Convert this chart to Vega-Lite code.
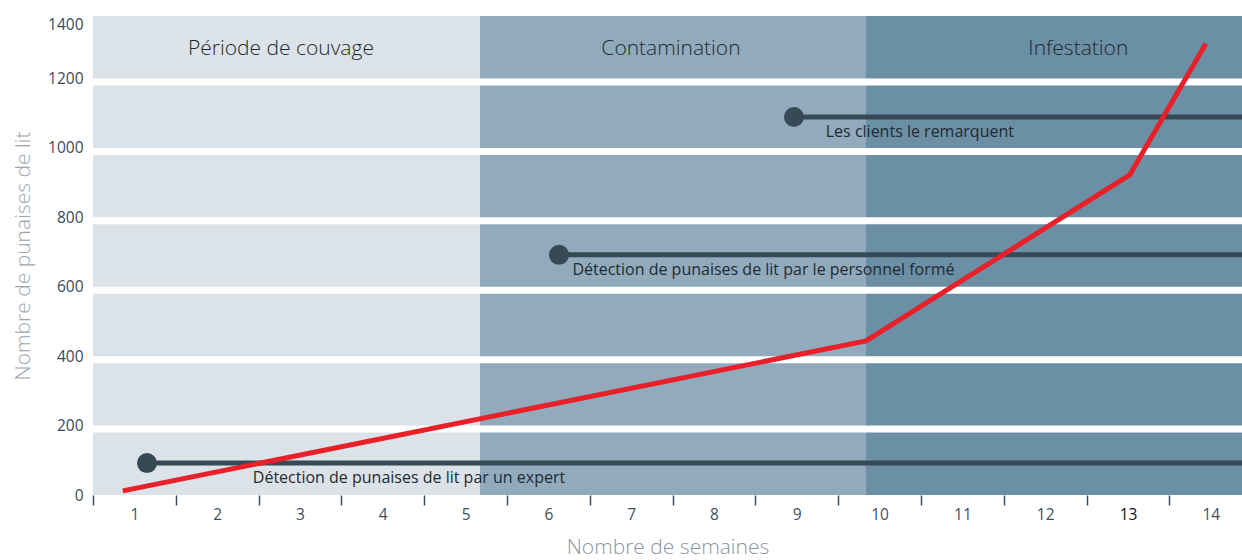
{
  "$schema": "https://vega.github.io/schema/vega-lite/v6.json",
  "width": 1149,
  "height": 479,
  "autosize": {"type": "none"},
  "padding": {"left": 93, "top": 16, "right": 0, "bottom": 65},
  "background": "white",
  "config": {
    "view": {"stroke": null},
    "font": "Open Sans"
  },
  "datasets": {
    "stages": [
      {"stage": "Période de couvage", "start": 0.5, "end": 5.174, "labelx": 2.77},
      {"stage": "Contamination", "start": 5.174, "end": 9.836, "labelx": 7.48},
      {"stage": "Infestation", "start": 9.836, "end": 14.377, "labelx": 12.4}
    ],
    "gaps": [{"v": 200}, {"v": 400}, {"v": 600}, {"v": 800}, {"v": 1000}, {"v": 1200}],
    "growth": [
      {"semaine": 0.86, "punaises": 12},
      {"semaine": 9.836, "punaises": 444},
      {"semaine": 13.02, "punaises": 922},
      {"semaine": 13.94, "punaises": 1300}
    ],
    "detection": [
      {"label": "Détection de punaises de lit par un expert", "start": 1.152, "end": 14.377, "value": 92, "labelx": 2.43},
      {"label": "Détection de punaises de lit par le personnel formé", "start": 6.128, "end": 14.377, "value": 692, "labelx": 6.29},
      {"label": "Les clients le remarquent", "start": 8.966, "end": 14.377, "value": 1089, "labelx": 9.35}
    ]
  },
  "layer": [
    {
      "data": {"name": "stages"},
      "mark": {"type": "rect"},
      "encoding": {
        "x": {"field": "start", "type": "quantitative", "scale": {"domain": [0.5, 14.377], "nice": false, "zero": false}},
        "x2": {"field": "end"},
        "y": {"datum": 0, "type": "quantitative", "scale": {"domain": [0, 1380], "nice": false}},
        "y2": {"datum": 1380},
        "color": {"field": "stage", "type": "nominal", "legend": null,
          "scale": {"domain": ["Période de couvage", "Contamination", "Infestation"], "range": ["#dce3e8", "#91abbd", "#6b8fa5"]}}
      }
    },
    {
      "data": {"name": "gaps"},
      "mark": {"type": "rule", "color": "white", "strokeWidth": 7, "yOffset": 3.5},
      "encoding": {
        "y": {"field": "v", "type": "quantitative"}
      }
    },
    {
      "data": {"name": "stages"},
      "mark": {"type": "text", "fontSize": 21, "fontWeight": 300, "color": "#1f2a32", "baseline": "middle", "align": "center"},
      "encoding": {
        "x": {"field": "labelx", "type": "quantitative"},
        "y": {"datum": 1285, "type": "quantitative"},
        "text": {"field": "stage"}
      }
    },
    {
      "data": {"name": "detection"},
      "mark": {"type": "rule", "color": "#364a56", "strokeWidth": 5},
      "encoding": {
        "x": {"field": "start", "type": "quantitative"},
        "x2": {"field": "end"},
        "y": {"field": "value", "type": "quantitative"}
      }
    },
    {
      "data": {"name": "detection"},
      "mark": {"type": "circle", "color": "#364a56", "opacity": 1, "size": 400},
      "encoding": {
        "x": {"field": "start", "type": "quantitative"},
        "y": {"field": "value", "type": "quantitative"}
      }
    },
    {
      "data": {"name": "detection"},
      "mark": {"type": "text", "fontSize": 16, "color": "#1f2a32", "align": "left", "baseline": "middle", "dy": 15},
      "encoding": {
        "x": {"field": "labelx", "type": "quantitative"},
        "y": {"field": "value", "type": "quantitative"},
        "text": {"field": "label"}
      }
    },
    {
      "data": {"name": "growth"},
      "mark": {"type": "line", "color": "#e8202a", "strokeWidth": 5, "strokeCap": "butt"},
      "encoding": {
        "x": {"field": "semaine", "type": "quantitative",
          "axis": {
            "title": "Nombre de semaines", "format": "d",
            "titleFontSize": 21, "titleFontWeight": 300, "titleColor": "#8a969f", "titlePadding": 14,
            "values": [1, 2, 3, 4, 5, 6, 7, 8, 9, 10, 11, 12, 13, 14],
            "domain": false, "grid": false,
            "tickSize": 10, "tickWidth": 1.5, "tickColor": "#3d4f5c",
            "tickOffset": -41.4, "labelOffset": 41.4,
            "labelFontSize": 15.5, "labelPadding": 2,
            "labelColor": {"condition": {"test": "datum.value == 13", "value": "#111111"}, "value": "#3f4f5c"},
            "labelFlush": false, "labelOverlap": false
          }
        },
        "y": {"field": "punaises", "type": "quantitative",
          "axis": {
            "title": "Nombre de punaises de lit", "format": "d",
            "titleFontSize": 21, "titleFontWeight": 300, "titleColor": "#9aa5ad", "titlePadding": 14,
            "values": [0, 200, 400, 600, 800, 1000, 1200, 1355],
            "labelExpr": "datum.value > 1300 ? '1400' : datum.label",
            "domain": false, "grid": false, "ticks": false,
            "labelFontSize": 15.5, "labelPadding": 10, "labelColor": "#3b4a57",
            "labelFlush": false, "labelOverlap": false
          }
        }
      }
    }
  ]
}
